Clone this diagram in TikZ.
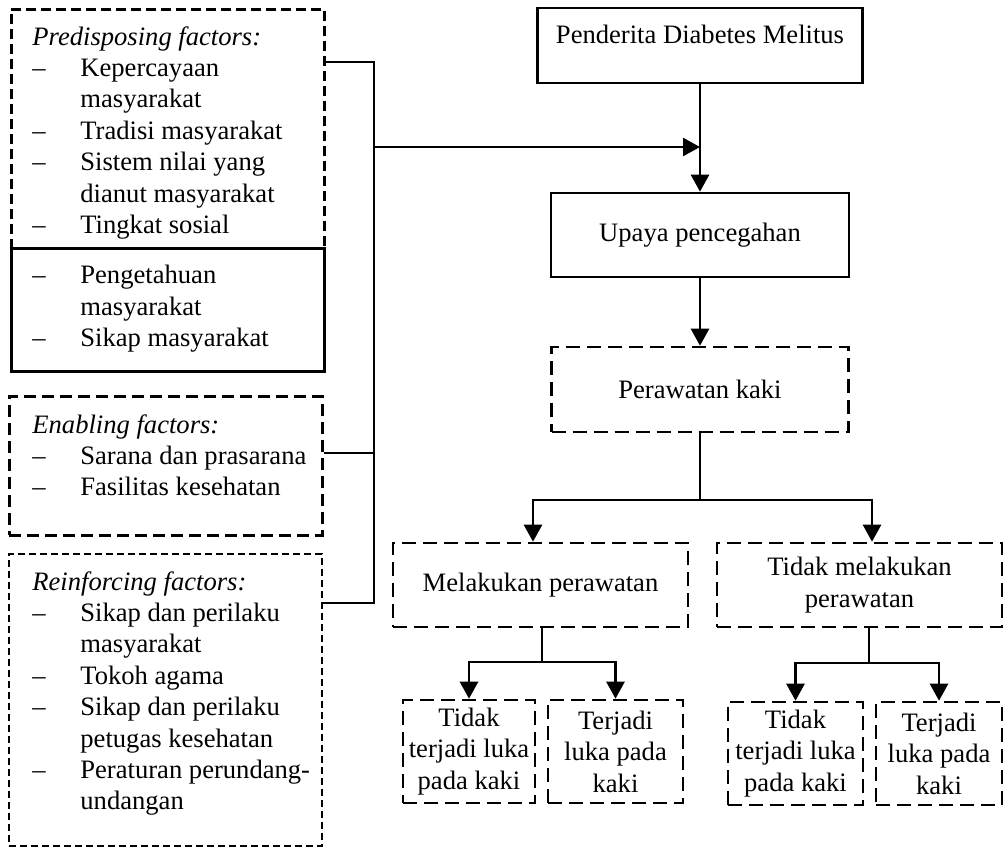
\documentclass[tikz,border=0pt]{standalone}
\usepackage{fontspec}
\setmainfont{Liberation Serif}
\usetikzlibrary{arrows.meta, calc, positioning}

\newcommand{\fitem}[1]{\makebox[24pt][l]{--}#1}
\newcommand{\fcont}[1]{\hspace*{24pt}#1}

\begin{document}
\begin{tikzpicture}[x=0.5pt, y=-0.5pt,
        every node/.style={font=\fontsize{13.3pt}{15.7pt}\selectfont},
        frame/.style={draw, line width=1.3pt, minimum width=156.5pt, anchor=north west, inner sep=0pt},
        ftext/.style={align=left, inner sep=0pt},
        box/.style={draw, line width=1.3pt, align=center, inner sep=2pt},
        dbox/.style={box, dash pattern=on 7pt off 3.5pt},
        conn/.style={line width=1.3pt},
        arr/.style={conn, -{Triangle[width=9pt, length=8.5pt]}}]
    \useasboundingbox (0,0) rectangle (1005,847);

    % factor frames
    \node[frame, dash pattern=on 5pt off 2.5pt, minimum height=119.5pt] (fpre) at (10,8) {};
    \node[frame, minimum height=61.5pt] (fknow) at (10,247) {};
    \node[frame, dash pattern=on 6pt off 3pt, minimum height=69.5pt] (fenab) at (8,395) {};
    \node[frame, line width=0.9pt, dash pattern=on 3.5pt off 2pt, minimum height=146pt] (freinf) at (8,553) {};

    \node[ftext, below right=9pt and 11pt of fpre.north west] (tpre) {%
        \textit{Predisposing factors:}\\
        \fitem{Kepercayaan}\\
        \fcont{masyarakat}\\
        \fitem{Tradisi masyarakat}\\
        \fitem{Sistem nilai yang}\\
        \fcont{dianut masyarakat}\\
        \fitem{Tingkat sosial}};
    \node[ftext, below right=9pt and 11pt of fknow.north west] (tknow) {%
        \fitem{Pengetahuan}\\
        \fcont{masyarakat}\\
        \fitem{Sikap masyarakat}};
    \node[ftext, below right=9.5pt and 12pt of fenab.north west] (tenab) {%
        \textit{Enabling factors:}\\
        \fitem{Sarana dan prasarana}\\
        \fitem{Fasilitas kesehatan}};
    \node[ftext, below right=9pt and 12pt of freinf.north west] (treinf) {%
        \textit{Reinforcing factors:}\\
        \fitem{Sikap dan perilaku}\\
        \fcont{masyarakat}\\
        \fitem{Tokoh agama}\\
        \fitem{Sikap dan perilaku}\\
        \fcont{petugas kesehatan}\\
        \fitem{Peraturan perundang-}\\
        \fcont{undangan}};

    % main chain
    \node[box, minimum width=162.5pt, minimum height=37.5pt, text depth=11.5pt] (pd) at (700,45.5) {Penderita Diabetes Melitus};
    \node[box, minimum width=149pt, minimum height=42pt] (up) at (700,235) {Upaya pencegahan};
    \node[dbox, minimum width=148.5pt, minimum height=42.5pt] (pk) at (700,389.5) {Perawatan kaki};
    \node[dbox, minimum width=147.5pt, minimum height=42pt] (mp) at (540.5,585) {Melakukan perawatan};
    \node[dbox, minimum width=142.5pt, minimum height=42pt] (tp) at (859.5,585) {Tidak melakukan\\perawatan};
    \node[dbox, minimum width=66pt, minimum height=51.5pt] (mp1) at (469,751.5) {Tidak\\terjadi luka\\pada kaki};
    \node[dbox, minimum width=67.5pt, minimum height=51.5pt] (mp2) at (615.5,751.5) {Terjadi\\luka pada\\kaki};
    \node[dbox, minimum width=67.5pt, minimum height=51.5pt] (tp1) at (795.5,753.5) {Tidak\\terjadi luka\\pada kaki};
    \node[dbox, minimum width=63pt, minimum height=51.5pt] (tp2) at (939,753.5) {Terjadi\\luka pada\\kaki};

    % connectors
    \coordinate (j1) at (374,62);
    \coordinate (j2) at (374,603);
    \coordinate (j3) at (374,453);
    \coordinate (j4) at (374,147);
    \draw[conn] (fpre.east |- j1) -- (j1) -- (j2) -- (freinf.east |- j2);
    \draw[conn] (fenab.east |- j3) -- (j3);
    \draw[arr] (j4) -- (pd.south |- j4);
    \draw[arr] (pd.south) -- (up.north);
    \draw[arr] (up.south) -- (pk.north);

    \coordinate (s1) at (700,500);
    \draw[conn] (pk.south) -- (s1);
    \draw[arr] (s1) -| ([xshift=-3.75pt]mp.north);
    \draw[arr] (s1) -| ([xshift=6.25pt]tp.north);

    \coordinate (s2) at (542,662);
    \draw[conn] (mp.south -| s2) -- (s2);
    \draw[arr] (s2) -| (mp1.north);
    \draw[arr] (s2) -| (mp2.north);

    \coordinate (s3) at (869,663);
    \draw[conn] (tp.south -| s3) -- (s3);
    \draw[arr] (s3) -| (tp1.north);
    \draw[arr] (s3) -| (tp2.north);
\end{tikzpicture}
\end{document}
